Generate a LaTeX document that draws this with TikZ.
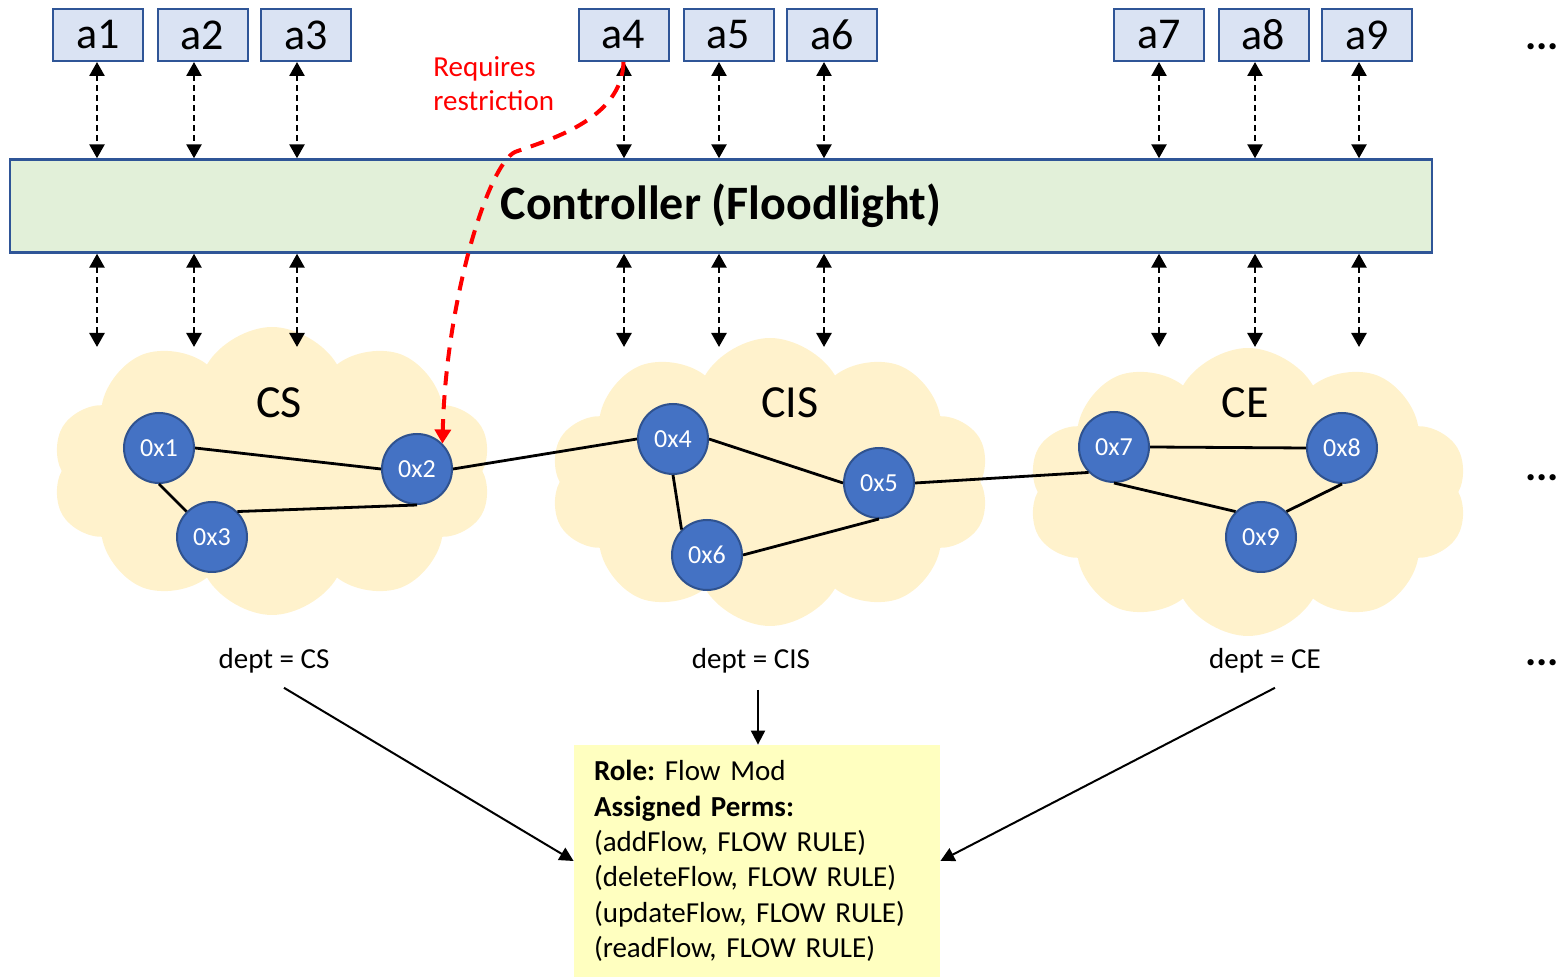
\documentclass[tikz,border=0pt]{standalone}
\usepackage{fontspec}
\setmainfont{Carlito}
\usetikzlibrary{arrows.meta,shapes.symbols,calc}
\definecolor{boxfill}{HTML}{DAE3F3}
\definecolor{boxline}{HTML}{2F5597}
\definecolor{ctrlfill}{HTML}{E2F0D9}
\definecolor{cloudfill}{HTML}{FFF2CC}
\definecolor{swfill}{HTML}{4472C4}
\definecolor{swline}{HTML}{2F528F}
\definecolor{rolefill}{HTML}{FFFFC0}
\definecolor{reqred}{HTML}{FF0000}
\frenchspacing
\begin{document}
\frenchspacing
\begin{tikzpicture}[x=0.5pt,y=-0.5pt,
  abox/.style={draw=boxline, fill=boxfill, line width=1pt, minimum width=45pt, minimum height=26pt, inner sep=0pt, font=\fontsize{22}{26}\selectfont},
  ctrlbox/.style={draw=boxline, fill=ctrlfill, line width=1.2pt, minimum width=711pt, minimum height=46.5pt, inner sep=0pt, font=\fontsize{24}{28}\selectfont\bfseries},
  cloudsty/.style={cloud, cloud puffs=10, cloud puff arc=120, cloud ignores aspect, fill=cloudfill, draw=none, inner sep=0pt, minimum width=220pt, minimum height=144pt},
  sw/.style={circle, fill=swfill, draw=swline, line width=1pt, minimum size=35pt, inner sep=0pt, text=white, font=\fontsize{13}{15}\selectfont},
  link/.style={line width=1.4pt, black},
  dar/.style={line width=1.3pt, dash pattern=on 3pt off 2pt, {Triangle[length=7pt,width=7.5pt]}-{Triangle[length=7pt,width=7.5pt]}},
  arr/.style={line width=1pt, -{Triangle[length=7pt,width=7pt]}},
  reqline/.style={reqred, line width=2pt, dash pattern=on 7pt off 5pt, -{Triangle[length=7pt,width=8pt]}},
  lbl/.style={inner sep=0pt, font=\fontsize{14.5}{17}\selectfont},
  cloudlbl/.style={inner sep=0pt, font=\fontsize{23}{26}\selectfont},
  dots/.style={inner sep=0pt, anchor=base west, font=\fontsize{21}{24}\selectfont\bfseries}
]
\useasboundingbox (0,0) rectangle (1560,977);

% clouds
\node[cloudsty] (cloudCS) at (272,471) {};
\node[cloudsty] (cloudCIS) at (770,482) {};
\node[cloudsty] (cloudCE) at (1248,492) {};
\node[cloudlbl] (lCS) at (279,403) {CS};
\node[cloudlbl] (lCIS) at (790,403) {CIS};
\node[cloudlbl] (lCE) at (1245,403) {CE};

% a boxes
\node[abox] (a1) at (98,35) {a1};
\node[abox] (a2) at (202.5,35) {a2};
\node[abox] (a3) at (306,35) {a3};
\node[abox] (a4) at (623.5,35) {a4};
\node[abox] (a5) at (728.5,35) {a5};
\node[abox] (a6) at (832,35) {a6};
\node[abox] (a7) at (1159,35) {a7};
\node[abox] (a8) at (1263.5,35) {a8};
\node[abox] (a9) at (1367,35) {a9};

% controller
\node[ctrlbox] (ctrl) at (721,206) {Controller (Floodlight)};

% arrow columns
\coordinate (lvl) at (0,347);
\foreach \b/\x in {a1/97,a2/194,a3/297,a4/624,a5/719,a6/824,a7/1159,a8/1255,a9/1359} {
  \coordinate (t\b) at (\x,0);
  \draw[dar] (\b.south -| t\b) -- (ctrl.north -| t\b);
  \draw[dar] (ctrl.south -| t\b) -- (t\b |- lvl);
}

% switches
\node[sw] (x1) at (159,448) {0x1};
\node[sw] (x2) at (417,469) {0x2};
\node[sw] (x3) at (212,537) {0x3};
\node[sw] (x4) at (673,439) {0x4};
\node[sw] (x5) at (879,483) {0x5};
\node[sw] (x6) at (707,555) {0x6};
\node[sw] (x7) at (1114,447) {0x7};
\node[sw] (x8) at (1342,448) {0x8};
\node[sw] (x9) at (1261,537) {0x9};

\draw[link] (x1.east) -- (x2.west);
\draw[link] (x1.south) -- (x3.north west);
\draw[link] (x3.north east) -- (x2.south);
\draw[link] (x2.east) -- (x4.west);
\draw[link] (x4.east) -- (x5.west);
\draw[link] (x4.south) -- (x6.north west);
\draw[link] (x6.east) -- (x5.south);
\draw[link] (x5.east) -- (x7.south west);
\draw[link] (x7.east) -- (x8.west);
\draw[link] (x7.south) -- (x9.north west);
\draw[link] (x8.south) -- (x9.north east);

% requires restriction
\node[lbl, text=reqred, align=left, anchor=west] (req) at (433,84) {Requires\\restriction};
\draw[reqline] (a4.south) .. controls (622,120) and (548,140) .. (515,152)
  .. controls (488,165) and (446,300) .. (x2.north east);

% dept labels
\node[lbl] (d1) at (274,661) {dept = CS};
\node[lbl] (d2) at (751,661) {dept = CIS};
\node[lbl] (d3) at (1265,661) {dept = CE};

% role box
\node[fill=rolefill, text width=163pt, inner xsep=10pt, inner ysep=0pt, minimum height=116pt, align=left, font=\fontsize{14.5}{17.65}\selectfont] (role) at (757,861)
  {\textbf{Role:} Flow Mod\\\textbf{Assigned Perms:}\\(addFlow, FLOW RULE)\\(deleteFlow, FLOW RULE)\\(updateFlow, FLOW RULE)\\(readFlow, FLOW RULE)};

\draw[arr] ([shift={(10,14)}]d1.south) -- (role.west);
\draw[arr] ([shift={(7,16)}]d2.south) -- (role.north -| d2.south -| 758,0);
\draw[arr] ([shift={(10,14)}]d3.south) -- (role.east);

% ellipses
\node[dots] (e1) at (1525,50) {...};
\node[dots] (e2) at (1525,481) {...};
\node[dots] (e3) at (1525,666) {...};
\end{tikzpicture}
\end{document}
